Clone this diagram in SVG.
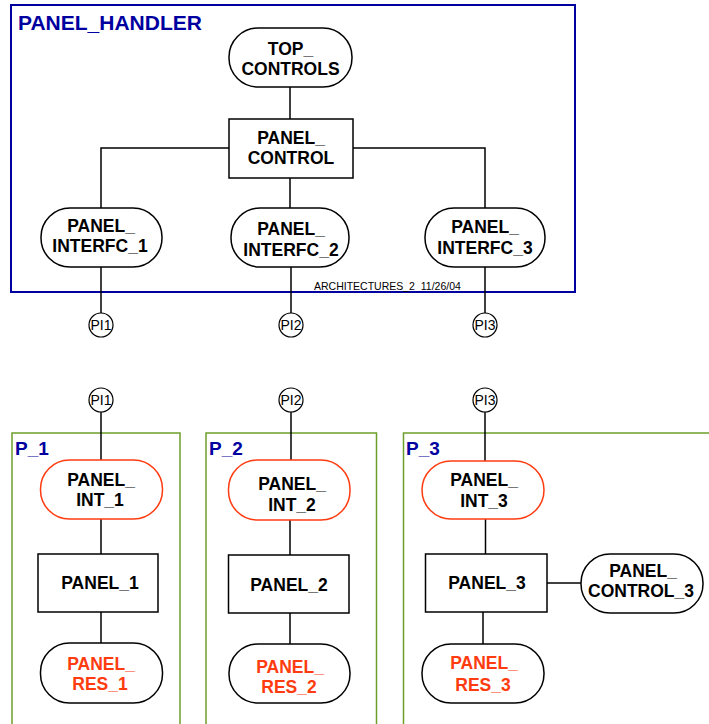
<svg xmlns="http://www.w3.org/2000/svg" width="709" height="724" viewBox="0 0 709 724">
  <style>
    .frame-top { fill: none; stroke: #0000a0; stroke-width: 2; }
    .frame-sub { fill: none; stroke: #6e9e2a; stroke-width: 1.5; }
    .title { font-family: "Liberation Sans", Arial, sans-serif; font-weight: bold; fill: #0000a0; }
    .node { fill: #ffffff; stroke: #000000; stroke-width: 1.5; }
    .node-red { fill: #ffffff; stroke: #ff3b10; stroke-width: 1.5; }
    .lbl { font-family: "Liberation Sans", Arial, sans-serif; font-weight: bold; font-size: 17.5px; fill: #000000; text-anchor: middle; }
    .lbl-red { fill: #ff3b10; }
    .pin { fill: #ffffff; stroke: #000000; stroke-width: 1.2; }
    .pin-lbl { font-family: "Liberation Sans", Arial, sans-serif; font-size: 14.5px; fill: #000000; text-anchor: middle; }
    .wire { fill: none; stroke: #000000; stroke-width: 1.5; }
    .note { font-family: "Liberation Sans", Arial, sans-serif; font-size: 10.5px; fill: #000000; white-space: pre; }
  </style>

  <!-- container frames -->
  <g id="PANEL_HANDLER">
    <rect class="frame-top" x="11" y="5" width="564" height="287"/>
    <text class="title" x="18" y="30" font-size="21">PANEL_HANDLER</text>
    <text class="note" x="314" y="290" xml:space="preserve">ARCHITECTURES_2  11/26/04</text>
  </g>
  <g id="P_1">
    <rect class="frame-sub" x="12" y="433" width="168" height="310"/>
    <text class="title" x="15" y="455" font-size="19">P_1</text>
  </g>
  <g id="P_2">
    <rect class="frame-sub" x="206" y="433" width="170.5" height="310"/>
    <text class="title" x="209" y="455" font-size="19">P_2</text>
  </g>
  <g id="P_3">
    <rect class="frame-sub" x="403.5" y="433" width="320" height="310"/>
    <text class="title" x="406" y="455" font-size="19">P_3</text>
  </g>

  <!-- connectors -->
  <g id="connectors">
    <path class="wire" d="M290 87 V119"/>
    <path class="wire" d="M229 148 H101 V208"/>
    <path class="wire" d="M353 148 H485 V208"/>
    <path class="wire" d="M290 178 V208"/>
    <path class="wire" d="M101 267 V313"/>
    <path class="wire" d="M291 267 V313"/>
    <path class="wire" d="M485 267 V313"/>
    <path class="wire" d="M101 412 V460"/>
    <path class="wire" d="M101 519 V554"/>
    <path class="wire" d="M101 612 V643"/>
    <path class="wire" d="M291 412 V460"/>
    <path class="wire" d="M290 520 V555"/>
    <path class="wire" d="M290 613 V644"/>
    <path class="wire" d="M485 412 V461"/>
    <path class="wire" d="M485.5 519 V554"/>
    <path class="wire" d="M483 612 V644"/>
    <path class="wire" d="M547 583 H581"/>
  </g>

  <!-- PANEL_HANDLER nodes -->
  <g id="TOP_CONTROLS">
    <rect class="node" x="229" y="28" width="123" height="59" rx="29" ry="29"/>
    <text class="lbl" x="290.5" y="55">TOP_</text>
    <text class="lbl" x="290.5" y="75">CONTROLS</text>
  </g>
  <g id="PANEL_CONTROL">
    <rect class="node" x="229" y="119" width="124" height="59"/>
    <text class="lbl" x="291" y="144">PANEL_</text>
    <text class="lbl" x="291" y="164">CONTROL</text>
  </g>
  <g id="PANEL_INTERFC_1">
    <rect class="node" x="41" y="208" width="121" height="59" rx="29" ry="29"/>
    <text class="lbl" x="101" y="232">PANEL_</text>
    <text class="lbl" x="100" y="252">INTERFC_1</text>
  </g>
  <g id="PANEL_INTERFC_2">
    <rect class="node" x="231" y="208" width="118" height="59" rx="29" ry="29"/>
    <text class="lbl" x="291" y="235">PANEL_</text>
    <text class="lbl" x="291" y="256">INTERFC_2</text>
  </g>
  <g id="PANEL_INTERFC_3">
    <rect class="node" x="425" y="208" width="120" height="59" rx="29" ry="29"/>
    <text class="lbl" x="485" y="233">PANEL_</text>
    <text class="lbl" x="485" y="254">INTERFC_3</text>
  </g>

  <!-- port pins -->
  <g id="PI1_out">
    <circle class="pin" cx="101" cy="325" r="12"/>
    <text class="pin-lbl" x="101" y="330" textLength="21" lengthAdjust="spacingAndGlyphs">PI1</text>
  </g>
  <g id="PI2_out">
    <circle class="pin" cx="291" cy="325" r="12"/>
    <text class="pin-lbl" x="291" y="330" textLength="21" lengthAdjust="spacingAndGlyphs">PI2</text>
  </g>
  <g id="PI3_out">
    <circle class="pin" cx="485" cy="325" r="12"/>
    <text class="pin-lbl" x="485" y="330" textLength="21" lengthAdjust="spacingAndGlyphs">PI3</text>
  </g>
  <g id="PI1_in">
    <circle class="pin" cx="101" cy="400" r="12"/>
    <text class="pin-lbl" x="101" y="405" textLength="21" lengthAdjust="spacingAndGlyphs">PI1</text>
  </g>
  <g id="PI2_in">
    <circle class="pin" cx="291" cy="400" r="12"/>
    <text class="pin-lbl" x="291" y="405" textLength="21" lengthAdjust="spacingAndGlyphs">PI2</text>
  </g>
  <g id="PI3_in">
    <circle class="pin" cx="485" cy="400" r="12"/>
    <text class="pin-lbl" x="485" y="405" textLength="21" lengthAdjust="spacingAndGlyphs">PI3</text>
  </g>

  <!-- P_1 nodes -->
  <g id="PANEL_INT_1">
    <rect class="node-red" x="40.5" y="460" width="122" height="59" rx="29" ry="29"/>
    <text class="lbl" x="101" y="486">PANEL_</text>
    <text class="lbl" x="100" y="506">INT_1</text>
  </g>
  <g id="PANEL_1">
    <rect class="node" x="38" y="554" width="120" height="58"/>
    <text class="lbl" x="100" y="589">PANEL_1</text>
  </g>
  <g id="PANEL_RES_1">
    <rect class="node" x="40.5" y="643" width="122" height="60" rx="29" ry="29"/>
    <text class="lbl lbl-red" x="101" y="670">PANEL_</text>
    <text class="lbl lbl-red" x="100" y="690">RES_1</text>
  </g>

  <!-- P_2 nodes -->
  <g id="PANEL_INT_2">
    <rect class="node-red" x="228.5" y="460" width="121.5" height="60" rx="29" ry="29"/>
    <text class="lbl" x="292" y="490">PANEL_</text>
    <text class="lbl" x="292" y="510.5">INT_2</text>
  </g>
  <g id="PANEL_2">
    <rect class="node" x="228.5" y="555" width="120.5" height="58"/>
    <text class="lbl" x="289" y="590.5">PANEL_2</text>
  </g>
  <g id="PANEL_RES_2">
    <rect class="node" x="229" y="644" width="121" height="59" rx="29" ry="29"/>
    <text class="lbl lbl-red" x="290" y="673">PANEL_</text>
    <text class="lbl lbl-red" x="289" y="693">RES_2</text>
  </g>

  <!-- P_3 nodes -->
  <g id="PANEL_INT_3">
    <rect class="node-red" x="422" y="461" width="122" height="58" rx="29" ry="29"/>
    <text class="lbl" x="484" y="486">PANEL_</text>
    <text class="lbl" x="484" y="506.5">INT_3</text>
  </g>
  <g id="PANEL_3">
    <rect class="node" x="425.5" y="554" width="121.5" height="58"/>
    <text class="lbl" x="487" y="588.5">PANEL_3</text>
  </g>
  <g id="PANEL_CONTROL_3">
    <rect class="node" x="581" y="554" width="122" height="59" rx="29" ry="29"/>
    <text class="lbl" x="643" y="576.5">PANEL_</text>
    <text class="lbl" x="641" y="596.5">CONTROL_3</text>
  </g>
  <g id="PANEL_RES_3">
    <rect class="node" x="422" y="644" width="122" height="59" rx="29" ry="29"/>
    <text class="lbl lbl-red" x="484" y="669">PANEL_</text>
    <text class="lbl lbl-red" x="483" y="690.5">RES_3</text>
  </g>
</svg>
